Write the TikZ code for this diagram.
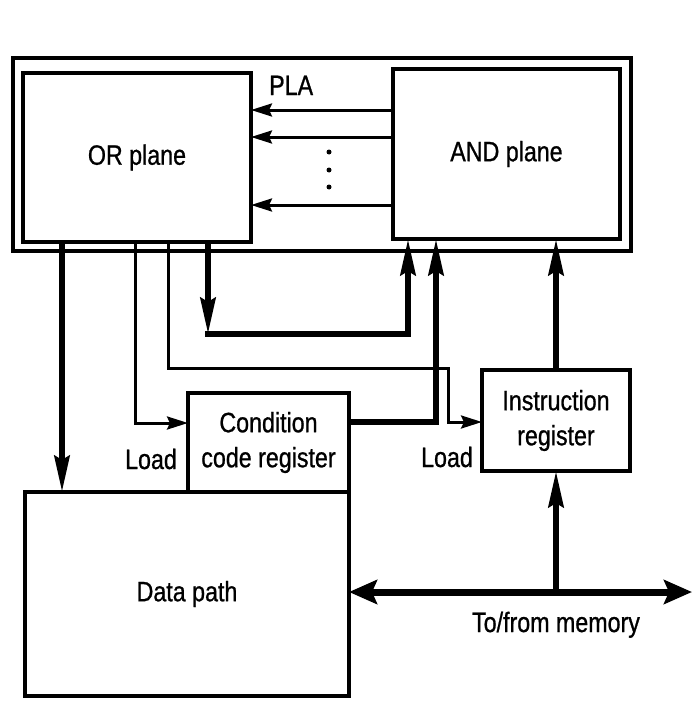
\documentclass[tikz,border=0pt]{standalone}
\usepackage{fontspec}
\setmainfont{Liberation Sans}[FakeStretch=0.83,FakeBold=0.8]
\usetikzlibrary{arrows.meta}
\begin{document}
\begin{tikzpicture}[x=1pt,y=-1pt,
  box/.style={draw, line width=3.5pt, inner sep=0pt, outer sep=0pt, align=center},
  thinarrow/.style={line width=3pt, -{Stealth[length=21pt,width=13pt,inset=3pt]}},
  thickarrow/.style={line width=6pt, -{Stealth[length=36pt,width=15pt,inset=4pt]}},
  thickline/.style={line width=6pt, line cap=rect},
  busline/.style={line width=7pt, {Stealth[length=28pt,width=24pt,inset=5pt]}-{Stealth[length=28pt,width=24pt,inset=5pt]}},
  lbl/.style={inner sep=0pt, anchor=base},
  font=\fontsize{28}{35}\selectfont]
\useasboundingbox (0,0) rectangle (696,701);
\fill[white] (0,0) rectangle (696,701);

% boxes
\node[box, minimum width=618pt, minimum height=193pt, anchor=north west] (pla) at (13,58) {};
\node[box, minimum width=228pt, minimum height=169pt] (or) at (137,157.5) {OR plane};
\node[box, minimum width=227pt, minimum height=170pt] (and) at (506.5,154) {AND plane};
\node[box, minimum width=161pt, minimum height=99pt] (ccr) at (268.5,442.5) {Condition\\code register};
\node[box, minimum width=148pt, minimum height=101pt] (ir) at (556,420.5) {Instruction\\register};
\node[box, minimum width=324pt, minimum height=204pt] (dp) at (187,594) {Data path};

% labels
\node[lbl, anchor=base west] (plalbl) at (269,95) {PLA};
\node[lbl] (load1) at (151,469) {Load};
\node[lbl] (load2) at (447,467) {Load};
\node[lbl] (memlbl) at (556,632) {To/from memory};

% helper coordinates
\coordinate (a1) at (0,110);
\coordinate (a2) at (0,137);
\coordinate (a3) at (0,205);
\coordinate (x62) at (62,0);
\coordinate (k1) at (135,423);
\coordinate (m1) at (168,368);
\coordinate (m2) at (448,422);
\coordinate (f1) at (208,334);
\coordinate (f2) at (408,0);
\coordinate (g1) at (436,422);
\coordinate (mem) at (692,592);

% AND -> OR
\draw[thinarrow] (and.west |- a1) -- (or.east |- a1);
\draw[thinarrow] (and.west |- a2) -- (or.east |- a2);
\draw[thinarrow] (and.west |- a3) -- (or.east |- a3);
\fill (329,152) circle (2.5pt);
\fill (329,170) circle (2.5pt);
\fill (329,187) circle (2.5pt);

% OR -> data path
\draw[thickarrow] (or.south -| x62) -- (dp.north -| x62);
% OR -> CCR load
\draw[thinarrow] (or.south -| k1) |- (ccr.west |- k1);
% OR -> IR load
\draw[thinarrow] (or.south -| m1) -- (m1) -| (m2) -- (ir.west |- m2);
% OR -> AND feedback
\draw[thickarrow] (or.south -| f1) -- (f1);
\draw[thickline, -{Stealth[length=36pt,width=15pt,inset=4pt]}] (f1) -| (and.south -| f2);
% CCR -> AND
\draw[thickarrow] (ccr.east |- g1) -| (and.south -| g1);
% IR -> AND
\draw[thickarrow] (ir.north) -- (and.south -| ir.north);
% memory bus
\draw[busline] (dp.east |- mem) -- (mem);
\draw[thickarrow] (ir.south |- mem) -- (ir.south);
\end{tikzpicture}
\end{document}
